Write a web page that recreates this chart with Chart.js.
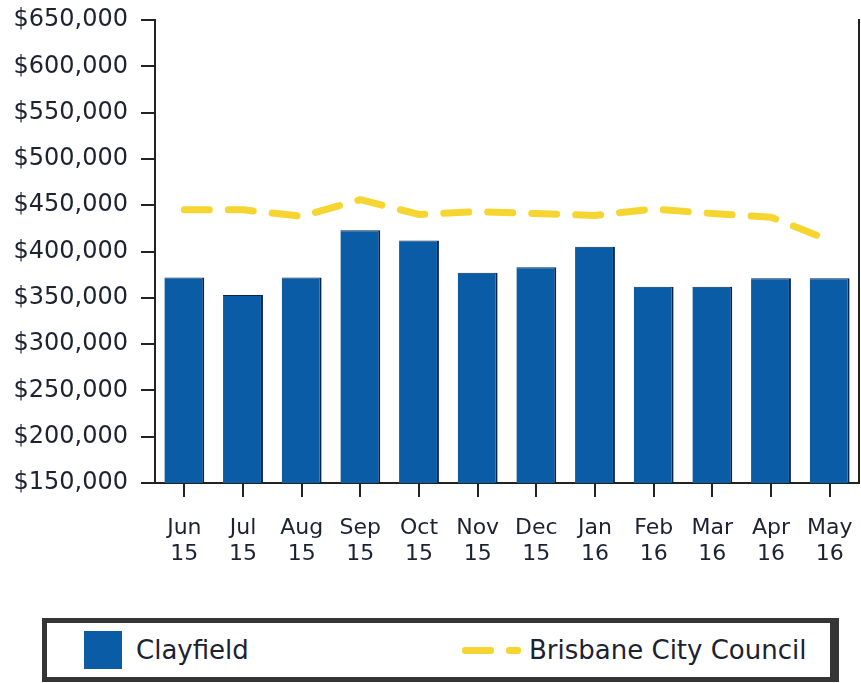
<!DOCTYPE html>
<html>
<head>
<meta charset="utf-8">
<script src="https://cdn.jsdelivr.net/npm/chart.js@4"></script>
<style>
    html, body { margin: 0; padding: 0; background: #fff; }
    body { width: 861px; height: 683px; position: relative; overflow: hidden; font-family: "DejaVu Sans", Verdana, sans-serif; }
    #wrap { position: absolute; left: 0; top: 0; width: 861px; height: 600px; }
    #legend {
        position: absolute; left: 42px; top: 618px; width: 783px; height: 54px;
        border: 5px solid #353535; border-right-width: 9px; background: #fff;
        color: #1c2230; font-size: 26px;
    }
    .item { position: absolute; top: 0; height: 54px; display: flex; align-items: center; }
    .swatch { width: 38px; height: 38px; margin-right: 14px; }
    .dash { display: inline-block; height: 7px; border-radius: 3px; }
</style>
</head>
<body>
<div id="wrap"><canvas id="chart"></canvas></div>
<div id="legend"></div>
<script>
// Данные
const months = [
    ['Jun', '15'], ['Jul', '15'], ['Aug', '15'], ['Sep', '15'], ['Oct', '15'], ['Nov', '15'],
    ['Dec', '15'], ['Jan', '16'], ['Feb', '16'], ['Mar', '16'], ['Apr', '16'], ['May', '16']
];
const clayfield = [372000, 353000, 372000, 423000, 412000, 377000, 383000, 405000, 362000, 362000, 371000, 371000];
const brisbane = [445000, 445000, 438000, 456000, 440000, 443000, 441000, 439000, 446000, 441000, 437000, 412000];

const barColor = '#0b5ca6';
const lineColor = '#f6d531';
const textColor = '#1c2230';
const axisColor = '#222222';

const ctx = document.getElementById('chart').getContext('2d');
const chart = new Chart(ctx, {
    data: {
        labels: months,
        datasets: [
            {
                type: 'line',
                label: 'Brisbane City Council',
                data: brisbane,
                borderColor: lineColor,
                borderWidth: 7,
                borderDash: [25, 19],
                borderCapStyle: 'round',
                pointRadius: 0,
                tension: 0,
                order: 0
            },
            {
                type: 'bar',
                label: 'Clayfield',
                data: clayfield,
                backgroundColor: barColor,
                borderColor: '#0a2748',
                borderWidth: { right: 2, top: 1 },
                borderSkipped: 'bottom',
                categoryPercentage: 1,
                barPercentage: 0.68,
                order: 1
            }
        ]
    },
    options: {
        responsive: true,
        maintainAspectRatio: false,
        animation: false,
        layout: { padding: { top: 20, right: 0, bottom: 0, left: 0 } },
        plugins: {
            legend: { display: false },
            tooltip: { enabled: false }
        },
        scales: {
            x: {
                offset: true,
                grid: { offset: false, drawOnChartArea: false, tickLength: 14, color: axisColor, lineWidth: 2 },
                border: { color: axisColor, width: 2 },
                ticks: {
                    color: textColor,
                    padding: 19,
                    maxRotation: 0,
                    autoSkip: false,
                    font: { family: 'DejaVu Sans', size: 22, lineHeight: 1.15 }
                },
                afterFit: scale => {
                    scale.height = 117;
                    scale.paddingLeft = 0;
                    scale.paddingRight = 0;
                }
            },
            y: {
                min: 150000,
                max: 650000,
                grid: { drawOnChartArea: false, tickLength: 14, color: axisColor, lineWidth: 2 },
                border: { color: axisColor, width: 2 },
                ticks: {
                    stepSize: 50000,
                    color: textColor,
                    padding: 13,
                    font: { family: 'DejaVu Sans', size: 24 },
                    callback: v => '$' + v.toLocaleString('en-US')
                },
                afterFit: scale => {
                    scale.width = 155;
                    scale.paddingTop = 0;
                    scale.paddingBottom = 0;
                }
            },
            yRight: {
                position: 'right',
                min: 150000,
                max: 650000,
                grid: { display: false },
                border: { color: axisColor, width: 2 },
                ticks: { display: false },
                afterFit: scale => {
                    scale.width = 2;
                    scale.paddingTop = 0;
                    scale.paddingBottom = 0;
                }
            }
        }
    }
});

// Легенда
function buildLegend() {
    const legend = document.getElementById('legend');
    const bar = chart.data.datasets[1];
    const line = chart.data.datasets[0];

    const a = document.createElement('div');
    a.className = 'item';
    a.style.left = '37px';
    a.innerHTML = `<span class="swatch" style="background:${bar.backgroundColor}"></span><span>${bar.label}</span>`;
    legend.appendChild(a);

    const b = document.createElement('div');
    b.className = 'item';
    b.style.left = '415px';
    b.innerHTML = `<span class="dash" style="width:32px;background:${line.borderColor};margin-right:12px"></span>` +
        `<span class="dash" style="width:15px;background:${line.borderColor};margin-right:8px"></span>` +
        `<span>${line.label}</span>`;
    legend.appendChild(b);
}
buildLegend();
</script>
</body>
</html>
